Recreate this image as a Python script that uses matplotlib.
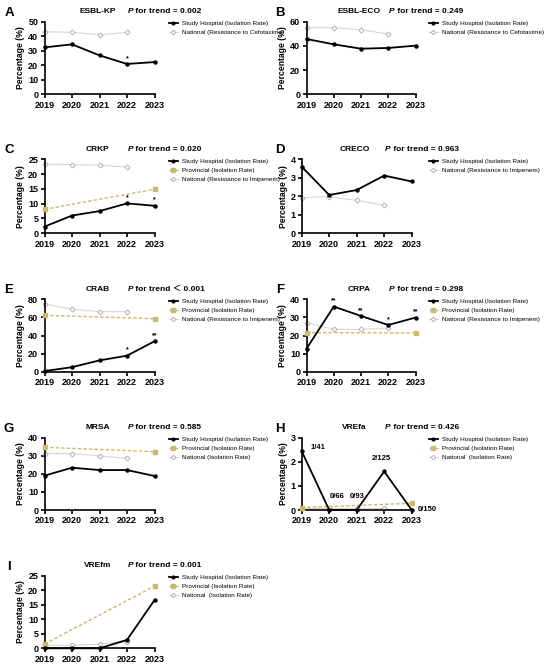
import matplotlib
matplotlib.use("Agg")
import matplotlib.pyplot as plt

plt.rcParams["font.family"] = ["Liberation Sans", "Noto Sans CJK SC", "DejaVu Sans"]

years = [2019, 2020, 2021, 2022, 2023]
prov_years = [2019, 2023]
nat_years = [2019, 2020, 2021, 2022]

# A  ESBL-KP
kp_hosp = [32.3, 34.4, 26.8, 20.9, 22.2]
kp_nat = [43.1, 42.7, 41.0, 42.7]
# B  ESBL-ECO
eco_hosp = [45.7, 41.3, 37.7, 38.3, 40.2]
eco_nat = [55.0, 55.0, 53.4, 49.8]
# C  CRKP
crkp_hosp = [2.25, 6.0, 7.5, 10.1, 9.3]
crkp_prov = [8.1, 14.9]
crkp_nat = [23.4, 23.2, 23.0, 22.4]
# D  CRECO
creco_hosp = [3.6, 2.07, 2.34, 3.12, 2.8]
creco_nat = [1.93, 1.98, 1.78, 1.51]
# E  CRAB
crab_hosp = [0.7, 5.0, 12.5, 17.7, 33.6]
crab_prov = [62.3, 58.6]
crab_nat = [74.9, 69.0, 66.4, 66.4]
# F  CRPA
crpa_hosp = [12.7, 36.0, 30.8, 25.8, 29.9]
crpa_prov = [21.6, 21.4]
crpa_nat = [27.1, 23.4, 23.4, 24.1]
# G  MRSA
mrsa_hosp = [19.0, 23.4, 22.1, 22.1, 18.8]
mrsa_prov = [34.7, 32.3]
mrsa_nat = [31.2, 31.2, 29.9, 28.6]
# H  VREfa
vrefa_hosp = [2.44, 0.0, 0.0, 1.6, 0.0]
vrefa_prov = [0.1, 0.28]
vrefa_nat = [0.1, 0.1, 0.1, 0.1]
vrefa_counts = ["1/41", "0/66", "0/93", "2/125", "0/150"]
# I  VREfm
vrefm_hosp = [0.0, 0.0, 0.0, 2.9, 16.6]
vrefm_prov = [1.5, 21.4]
vrefm_nat = [1.1, 1.0, 1.5, 2.3]

lab_hosp = "Study Hospital (Isolation Rate)"
lab_prov = "Provincial (Isolation Rate)"

W, H = 550, 664

# letter, name, p text, hospital, provincial, national, national label, ymax, ystep, stars, axes box (px)
panels = [
    ("A", "ESBL-KP", "= 0.002", kp_hosp, None, kp_nat,
     "National (Resistance to Cefotaxime)", 50, 10, {2022: "*"}, (44.5, 21.7, 154.5, 94.3)),
    ("B", "ESBL-ECO", "= 0.249", eco_hosp, None, eco_nat,
     "National (Resistance to Cefotaxime)", 60, 20, {}, (306.5, 21.7, 415.5, 94.3)),
    ("C", "CRKP", "= 0.020", crkp_hosp, crkp_prov, crkp_nat,
     "National (Resistance to Imipenem)", 25, 5, {2022: "*", 2023: "*"}, (44.5, 159.3, 154.5, 233.3)),
    ("D", "CRECO", "= 0.963", creco_hosp, None, creco_nat,
     "National (Resistance to Imipenem)", 4, 1, {}, (301.7, 159.3, 411.7, 233.3)),
    ("E", "CRAB", "＜ 0.001", crab_hosp, crab_prov, crab_nat,
     "National (Resistance to Imipenem)", 80, 20, {2022: "*", 2023: "**"}, (44.5, 299.3, 154.5, 371.7)),
    ("F", "CRPA", "= 0.298", crpa_hosp, crpa_prov, crpa_nat,
     "National (Resistance to Imipenem)", 40, 10, {2020: "**", 2021: "**", 2022: "*", 2023: "**"},
     (306.5, 299.3, 415.5, 371.7)),
    ("G", "MRSA", "= 0.585", mrsa_hosp, mrsa_prov, mrsa_nat,
     "National (Isolation Rate)", 40, 10, {}, (44.5, 437.7, 154.5, 510.0)),
    ("H", "VREfa", "= 0.426", vrefa_hosp, vrefa_prov, vrefa_nat,
     "National  (Isolation Rate)", 3, 1, {}, (301.7, 437.7, 411.7, 510.0)),
    ("I", "VREfm", "= 0.001", vrefm_hosp, vrefm_prov, vrefm_nat,
     "National  (Isolation Rate)", 25, 5, {}, (44.5, 575.7, 154.5, 648.3)),
]

fig = plt.figure(figsize=(W / 100, H / 100), dpi=100)

for letter, name, ptxt, hosp, prov, nat, nat_lab, ymax, ystep, stars, box in panels:
    x0, y0, x1, y1 = box
    ax = fig.add_axes([x0 / W, 1 - y1 / H, (x1 - x0) / W, (y1 - y0) / H])

    ax.plot(nat_years, nat, color="#d6d6d6", lw=0.8, marker="D", ms=2.6,
            mfc="white", mec="#a8a8a8", mew=0.6, clip_on=False, zorder=2, label=nat_lab)
    if prov is not None:
        ax.plot(prov_years, prov, color="#c9bb6c", lw=1.0, ls=(0, (2.5, 1.5)), marker="s",
                ms=3, clip_on=False, zorder=3, label=lab_prov)
    ax.plot(years, hosp, color="black", lw=1.3, marker="o", ms=2.2,
            clip_on=False, zorder=4, label=lab_hosp)

    for yr, s in stars.items():
        ax.annotate(s, (yr, hosp[years.index(yr)]), xytext=(0, 1.5), textcoords="offset points",
                    ha="center", va="bottom", fontsize=5, fontweight="bold")

    if letter == "H":
        offs = [(11.5, 3), (6, 10), (0, 10), (-2, 9.5), (11.5, 0.5)]
        for yr, v, t, o in zip(years, hosp, vrefa_counts, offs):
            ax.annotate(t, (yr, v), xytext=o, textcoords="offset points",
                        ha="center", va="center", fontsize=5.5, fontweight="bold")

    ax.set_xlim(2019, 2023)
    ax.set_ylim(0, ymax)
    ax.set_xticks(years)
    ax.set_yticks(range(0, ymax + 1, ystep))
    for sp in ["top", "right"]:
        ax.spines[sp].set_visible(False)
    for sp in ["left", "bottom"]:
        ax.spines[sp].set_linewidth(1.2)
    ax.tick_params(width=1.2, length=3, pad=1.5, labelsize=6.5)
    for t in ax.get_xticklabels() + ax.get_yticklabels():
        t.set_fontweight("bold")
    ax.set_ylabel("Percentage (%)", fontsize=6.2, fontweight="bold", labelpad=2)

    # title: organism + italic P
    ty = 1 + 10 / (y1 - y0)
    ax.text(0.48, ty, name, transform=ax.transAxes, ha="center", va="center",
            fontsize=6, fontweight="bold")
    ax.text(0.755, ty, "P", transform=ax.transAxes, ha="left", va="center",
            fontsize=6, fontweight="bold", style="italic")
    ax.annotate(" for trend " + ptxt, (0.755, ty), xycoords="axes fraction",
                xytext=(4.2, 0), textcoords="offset points", ha="left", va="center",
                fontsize=6, fontweight="bold")

    # panel letter
    lx = 9 if x0 < 200 else 280
    fig.text(lx / W, 1 - (y0 - 9) / H, letter, ha="center", va="center",
             fontsize=9.5, fontweight="bold")

    # legend (hospital first)
    h, l = ax.get_legend_handles_labels()
    h, l = h[::-1], l[::-1]
    lgx = 169 if x0 < 200 else 429
    fig.legend(h, l, loc="upper left", bbox_to_anchor=(lgx / W, 1 - (y0 - 1) / H),
               frameon=False, fontsize=4.6, handlelength=1.4, handletextpad=0.6,
               labelspacing=0.55, borderpad=0, borderaxespad=0, markerscale=0.9)

fig.savefig("out.png", dpi=100)
